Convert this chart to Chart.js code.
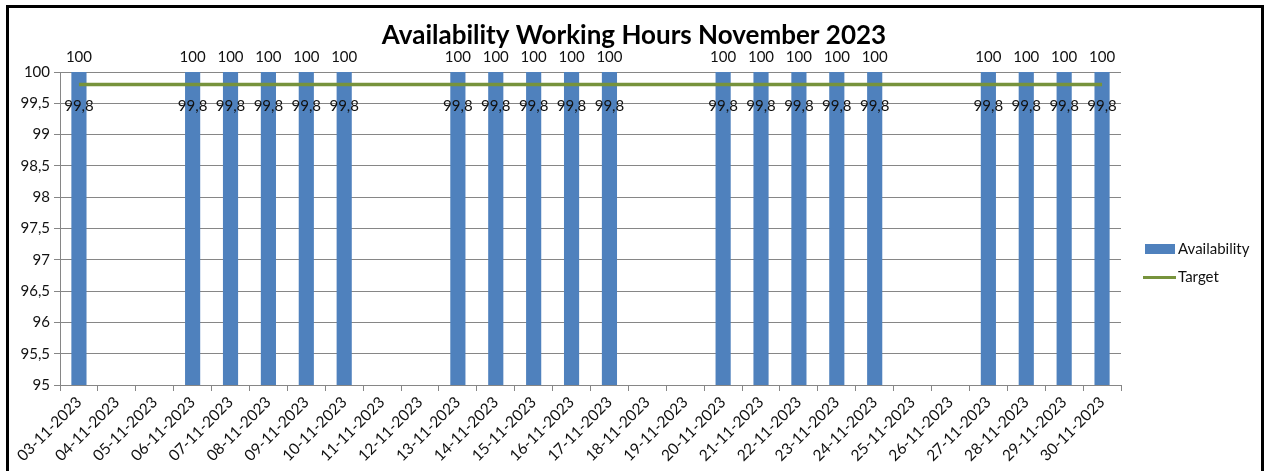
<!DOCTYPE html>
<html>
<head>
<meta charset="utf-8">
<script src="https://cdn.jsdelivr.net/npm/chart.js@4.4.0/dist/chart.umd.min.js"></script>
<style>
html,body{margin:0;padding:0;background:#fff;}
#wrap{position:relative;width:1265px;height:471px;}
canvas{display:block;}
</style>
</head>
<body>
<div id="wrap"><canvas id="c" width="1265" height="471"></canvas></div>
<script>
const categories = ["03-11-2023","04-11-2023","05-11-2023","06-11-2023","07-11-2023","08-11-2023","09-11-2023","10-11-2023","11-11-2023","12-11-2023","13-11-2023","14-11-2023","15-11-2023","16-11-2023","17-11-2023","18-11-2023","19-11-2023","20-11-2023","21-11-2023","22-11-2023","23-11-2023","24-11-2023","25-11-2023","26-11-2023","27-11-2023","28-11-2023","29-11-2023","30-11-2023"];
const availability = [100,null,null,100,100,100,100,100,null,null,100,100,100,100,100,null,null,100,100,100,100,100,null,null,100,100,100,100];
const target = [99.8,null,null,99.8,99.8,99.8,99.8,99.8,null,null,99.8,99.8,99.8,99.8,99.8,null,null,99.8,99.8,99.8,99.8,99.8,null,null,99.8,99.8,99.8,99.8];
const yTicks = [95,95.5,96,96.5,97,97.5,98,98.5,99,99.5,100];
const titleText = "Availability Working Hours November 2023";

const FONT = "Lato, 'Open Sans', sans-serif";
const BAR_COLOR = "#4F81BD";
const LINE_COLOR = "#77933C";
const GRID = "#868686";
const fmt = v => String(v).replace('.', ',');

const extras = {
  id: 'extras',
  beforeDraw(chart) {
    const ctx = chart.ctx;
    ctx.save();
    ctx.fillStyle = '#fff';
    ctx.fillRect(0, 0, chart.width, chart.height);
    ctx.strokeStyle = '#000';
    ctx.lineWidth = 3;
    ctx.beginPath();
    ctx.moveTo(7.5, 480);
    ctx.lineTo(7.5, 6.5);
    ctx.lineTo(1262.5, 6.5);
    ctx.lineTo(1262.5, 480);
    ctx.stroke();
    ctx.restore();
  },
  afterDatasetsDraw(chart) {
    const ctx = chart.ctx;
    ctx.save();
    // title
    ctx.fillStyle = '#000';
    ctx.font = "bold 26px " + FONT;
    ctx.textAlign = 'center';
    ctx.textBaseline = 'middle';
    ctx.fillText(titleText, 634, 36);
    // data labels
    ctx.font = "15px " + FONT;
    ctx.fillStyle = '#111';
    const barMeta = chart.getDatasetMeta(0);
    barMeta.data.forEach((el, i) => {
      const v = availability[i];
      if (v === null) return;
      ctx.fillText(fmt(v), el.x, el.y - 15);
    });
    const lineMeta = chart.getDatasetMeta(1);
    lineMeta.data.forEach((el, i) => {
      const v = target[i];
      if (v === null) return;
      ctx.fillText(fmt(v), el.x, el.y + 22);
    });
    // legend
    ctx.textAlign = 'left';
    ctx.fillStyle = BAR_COLOR;
    ctx.fillRect(1145, 244, 30, 10);
    ctx.fillStyle = '#111';
    ctx.fillText('Availability', 1178, 249);
    ctx.strokeStyle = LINE_COLOR;
    ctx.lineWidth = 3;
    ctx.beginPath();
    ctx.moveTo(1143, 277.5);
    ctx.lineTo(1176, 277.5);
    ctx.stroke();
    ctx.fillText('Target', 1178, 277);
    ctx.restore();
  }
};

new Chart(document.getElementById('c'), {
  type: 'bar',
  data: {
    labels: categories,
    datasets: [
      {
        label: 'Availability',
        data: availability,
        backgroundColor: BAR_COLOR,
        borderWidth: 0,
        barPercentage: 0.4,
        categoryPercentage: 1.0,
        order: 2
      },
      {
        type: 'line',
        label: 'Target',
        data: target,
        borderColor: LINE_COLOR,
        backgroundColor: LINE_COLOR,
        borderWidth: 3.5,
        pointRadius: 0,
        spanGaps: true,
        tension: 0,
        order: 1
      }
    ]
  },
  options: {
    responsive: false,
    animation: false,
    events: [],
    layout: { padding: { top: 72, right: 144, left: 0, bottom: 0 } },
    plugins: {
      legend: { display: false },
      title: { display: false },
      tooltip: { enabled: false }
    },
    scales: {
      x: {
        offset: true,
        grid: { display: true, drawOnChartArea: false, offset: true, color: GRID, tickLength: 6, lineWidth: 1 },
        border: { display: true, color: GRID, width: 1 },
        ticks: {
          maxRotation: 45, minRotation: 45, autoSkip: false,
          font: { family: FONT, size: 15.5 }, color: '#111', padding: 2
        },
        afterFit(scale) { scale.height = 86; }
      },
      y: {
        min: 95, max: 100,
        afterBuildTicks(scale) { scale.ticks = yTicks.map(v => ({ value: v })); },
        grid: { color: GRID, tickLength: 6, lineWidth: 1 },
        border: { display: true, color: GRID, width: 1 },
        ticks: {
          font: { family: FONT, size: 15 }, color: '#111', padding: 4,
          callback: v => fmt(v)
        },
        afterFit(scale) { scale.width = 60; }
      }
    }
  },
  plugins: [extras]
});
</script>
</body>
</html>
